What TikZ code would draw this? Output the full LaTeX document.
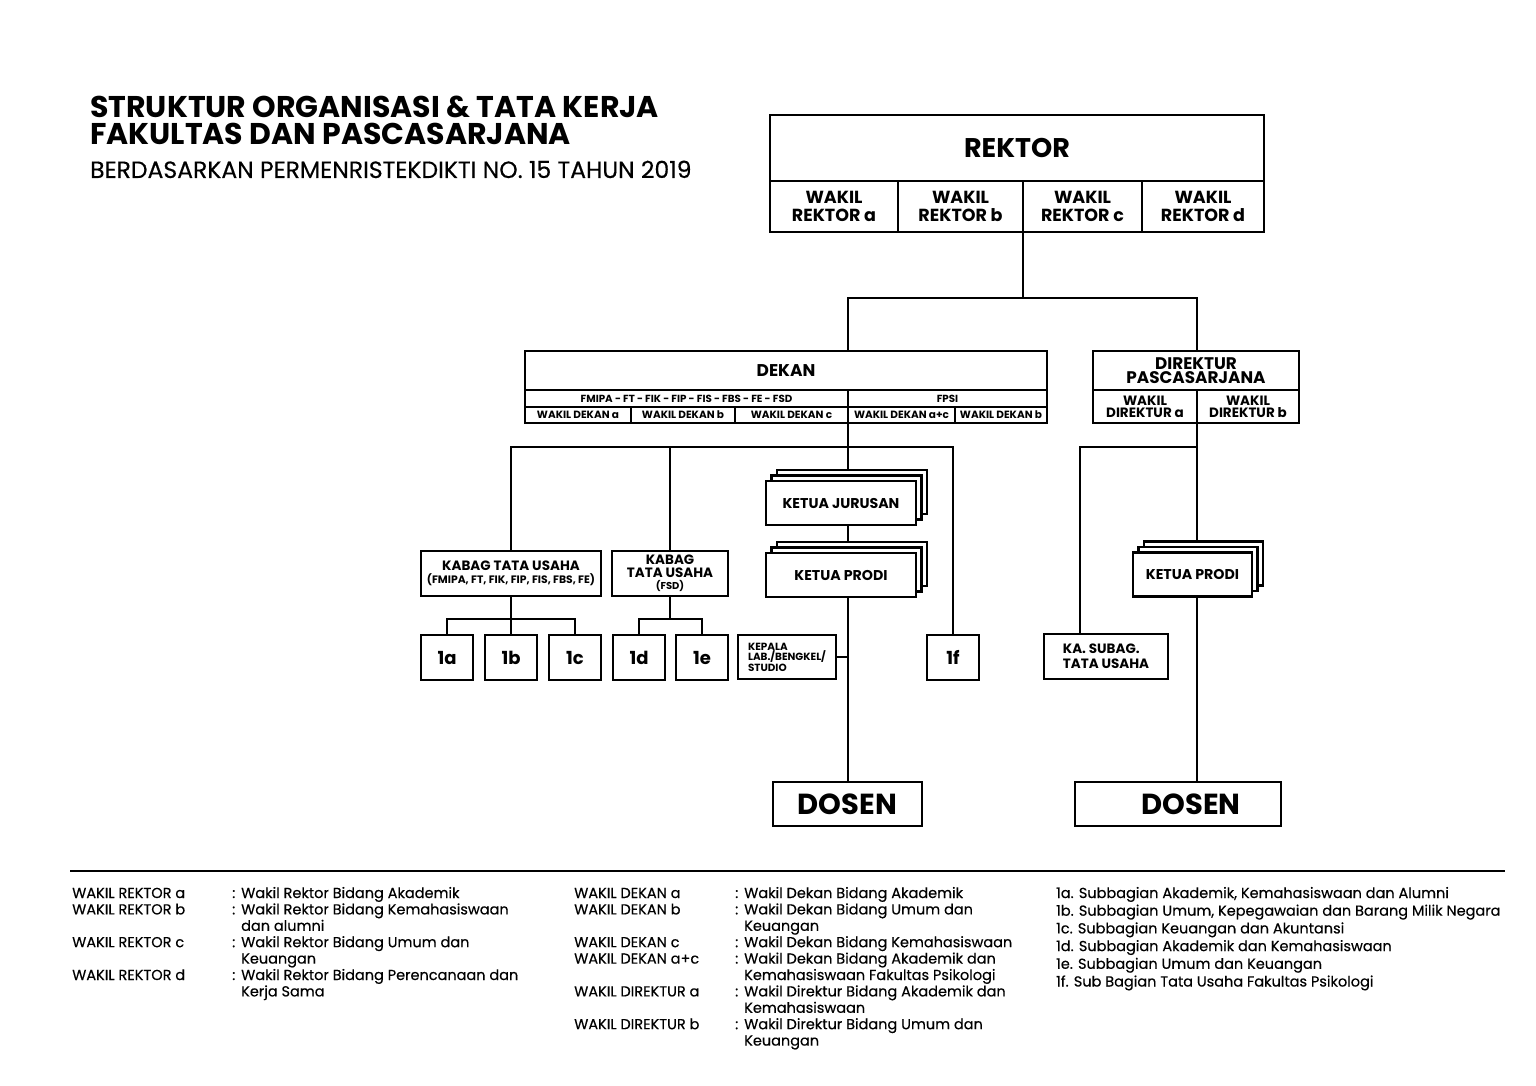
\documentclass[tikz,border=0pt]{standalone}
\usepackage{fontspec}
\setmainfont{Poppins}
\newfontfamily\bookfont{Poppins}[FakeBold=0.35]
\usetikzlibrary{positioning,shadows,backgrounds}
\newcommand\fsz[2]{\fontsize{#1}{#2}\selectfont}

\tikzset{
  orgbox/.style={draw,line width=2.4pt,fill=white,inner sep=0pt,outer sep=0pt,
    align=center,font=\bfseries},
  cell/.style={orgbox,line width=1.8pt},
  rcell/.style={orgbox,minimum height=51,font=\bfseries\fsz{17.5}{18}},
  dcell/.style={cell,minimum height=16,font=\bfseries\fsz{10.5}{11}},
  stackbox/.style={orgbox,double copy shadow={shadow xshift=5.5pt,shadow yshift=5.5pt},
    font=\bfseries\fsz{14.2}{15}},
  subbox/.style={orgbox,minimum width=52,minimum height=45,font=\bfseries\fsz{18}{20}},
  link/.style={line width=2.4pt},
  legend/.style={anchor=base west,inner sep=0pt,font=\bookfont\fsz{14.5}{16.4}}
}

\begin{document}
\begin{tikzpicture}[x=1pt,y=-1pt]
\useasboundingbox (0,0) rectangle (1536,1086);

% judul
\node[anchor=base west,inner sep=0pt,font=\bfseries\fsz{30}{30}] (title1) at (90,118) {STRUKTUR ORGANISASI \& TATA KERJA};
\node[anchor=base west,inner sep=0pt,font=\bfseries\fsz{30}{30}] (title2) at (90,145) {FAKULTAS DAN PASCASARJANA};
\node[anchor=base west,inner sep=0pt,font=\bookfont\fsz{23.5}{23.5}] (subtitle) at (90,178) {BERDASARKAN PERMENRISTEKDIKTI NO. 15 TAHUN 2019};

% rektor
\node[orgbox,minimum width=494,minimum height=66,font=\bfseries\fsz{27}{28}] (rektor) at (1017,148) {REKTOR};
\node[rcell,minimum width=128,anchor=north west] (wra) at (rektor.south west) {WAKIL\\REKTOR a};
\node[rcell,minimum width=125,right=0pt of wra] (wrb) {WAKIL\\REKTOR b};
\node[rcell,minimum width=119,right=0pt of wrb] (wrc) {WAKIL\\REKTOR c};
\node[rcell,minimum width=122,right=0pt of wrc] (wrd) {WAKIL\\REKTOR d};

% dekan
\node[cell,minimum width=522,minimum height=39,font=\bfseries\fsz{17}{18}] (dekan) at (786,370.5) {DEKAN};
\node[dcell,minimum width=323,minimum height=17,anchor=north west,font=\bfseries\fsz{10.3}{11}] (fak) at (dekan.south west) {FMIPA - FT - FIK - FIP - FIS - FBS - FE - FSD};
\node[dcell,minimum width=199,minimum height=17,right=0pt of fak,font=\bfseries\fsz{10.3}{11}] (fpsi) {FPSI};
\node[dcell,minimum width=106,anchor=north west] (wda) at (fak.south west) {WAKIL DEKAN a};
\node[dcell,minimum width=104,right=0pt of wda] (wdb) {WAKIL DEKAN b};
\node[dcell,minimum width=113,right=0pt of wdb] (wdc) {WAKIL DEKAN c};
\node[dcell,minimum width=107,right=0pt of wdc] (wdac) {WAKIL DEKAN a+c};
\node[dcell,minimum width=92,right=0pt of wdac] (wdb2) {WAKIL DEKAN b};
\draw[line width=2.4pt] (dekan.north west) rectangle (wdb2.south east);

% direktur
\node[orgbox,minimum width=206,minimum height=39,font=\bfseries\fsz{16.8}{14}] (dir) at (1196,370.5) {DIREKTUR\\PASCASARJANA};
\node[orgbox,minimum width=104,minimum height=33,anchor=north west,font=\bfseries\fsz{13.5}{12}] (wdira) at (dir.south west) {WAKIL\\DIREKTUR a};
\node[orgbox,minimum width=102,minimum height=33,right=0pt of wdira,font=\bfseries\fsz{13.5}{12}] (wdirb) {WAKIL\\DIREKTUR b};

% jurusan dan prodi
\node[stackbox,minimum width=150,minimum height=44] (jurusan) at (841,503) {KETUA JURUSAN};
\node[stackbox,minimum width=150,minimum height=44] (prodi1) at (841,575) {KETUA PRODI};
\node[stackbox,minimum width=119,minimum height=44] (prodi2) at (1192.5,574.5) {KETUA PRODI};

% kabag tata usaha
\node[orgbox,minimum width=180,minimum height=45,font=\bfseries\fsz{13.5}{13.5}] (kabag1) at (511,573.5)
  {KABAG TATA USAHA\\\fsz{10.8}{12}(FMIPA, FT, FIK, FIP, FIS, FBS, FE)};
\node[orgbox,minimum width=116,minimum height=45,font=\bfseries\fsz{13.5}{12.5}] (kabag2) at (670,573.5)
  {KABAG\\TATA USAHA\\\fsz{10}{11}(FSD)};

% subbagian
\node[subbox] (s1a) at (447,657.5) {1a};
\node[subbox,right=12pt of s1a] (s1b) {1b};
\node[subbox,right=12pt of s1b] (s1c) {1c};
\node[subbox,right=12pt of s1c] (s1d) {1d};
\node[subbox,right=11pt of s1d] (s1e) {1e};
\node[subbox] (s1f) at (953,657.5) {1f};
\node[orgbox,minimum width=98,minimum height=44,align=left,font=\bfseries\fsz{10.4}{10.5}] (lab) at (787,657) {KEPALA\\LAB./BENGKEL/\\STUDIO};
\node[orgbox,minimum width=124,minimum height=45,align=left,font=\bfseries\fsz{13.5}{15}] (subtu) at (1106,656.5) {KA. SUBAG.\\TATA USAHA};

% dosen
\node[orgbox,minimum width=149,minimum height=44,font=\bfseries\fsz{29}{30}] (dosen1) at (847.5,804) {DOSEN};
\node[orgbox,minimum width=206,minimum height=44,font=\bfseries\fsz{29}{30}] (dosen2) at (1178,804) {\hspace*{26pt}DOSEN};

% garis penghubung
\coordinate (rbus) at (1023,298);
\coordinate (spine) at (wdac.south west);
\coordinate (bus) at (849,447);
\coordinate (bus2) at (1197,447);
\coordinate (bus2w) at (1080,447);
\coordinate (tu1) at (511,619);
\coordinate (tu2) at (670,619);
\begin{scope}[on background layer]
  \draw[link] (wrc.south west) -- (rbus);
  \draw[link] (dekan.north -| fpsi.west) |- (rbus) -| (dir.north -| wdirb.west);
  \draw[link] (spine) -- (spine |- jurusan.north);
  \draw[link] (jurusan.south -| spine) -- (prodi1.north -| spine);
  \draw[link] (prodi1.south -| spine) -- (dosen1.north -| spine);
  \draw[link] (lab.east) -- (lab.east -| spine);
  \draw[link] (kabag1.north) |- (bus) -| (s1f.north);
  \draw[link] (kabag2.north) -- (kabag2.north |- bus);
  \draw[link] (kabag1.south) -- (tu1);
  \draw[link] (s1a.north) |- (tu1) -| (s1c.north);
  \draw[link] (s1b.north) -- (tu1);
  \draw[link] (kabag2.south) -- (tu2);
  \draw[link] (s1d.north) |- (tu2) -| (s1e.north);
  \draw[link] (wdirb.south west) -- (bus2);
  \draw[link] (bus2) -- (prodi2.north -| bus2);
  \draw[link] (subtu.north -| bus2w) |- (bus2);
  \draw[link] (prodi2.south -| bus2) -- (dosen2.north -| bus2);
\end{scope}

% keterangan
\draw[line width=1.5pt] (70,871) -- (1505,871);
\node[legend] (ket1) at (72,898) {\begin{tabular}[t]{@{}p{160pt}@{}p{9pt}@{}l@{}}
WAKIL REKTOR a & : & Wakil Rektor Bidang Akademik\\
WAKIL REKTOR b & : & Wakil Rektor Bidang Kemahasiswaan\\
 & & dan alumni\\
WAKIL REKTOR c & : & Wakil Rektor Bidang Umum dan\\
 & & Keuangan\\
WAKIL REKTOR d & : & Wakil Rektor Bidang Perencanaan dan\\
 & & Kerja Sama
\end{tabular}};
\node[legend] (ket2) at (574,898) {\begin{tabular}[t]{@{}p{161pt}@{}p{9pt}@{}l@{}}
WAKIL DEKAN a & : & Wakil Dekan Bidang Akademik\\
WAKIL DEKAN b & : & Wakil Dekan Bidang Umum dan\\
 & & Keuangan\\
WAKIL DEKAN c & : & Wakil Dekan Bidang Kemahasiswaan\\
WAKIL DEKAN a+c & : & Wakil Dekan Bidang Akademik dan\\
 & & Kemahasiswaan Fakultas Psikologi\\
WAKIL DIREKTUR a & : & Wakil Direktur Bidang Akademik dan\\
 & & Kemahasiswaan\\
WAKIL DIREKTUR b & : & Wakil Direktur Bidang Umum dan\\
 & & Keuangan
\end{tabular}};
\node[legend,font=\bookfont\fsz{14.5}{17.7}] (ket3) at (1056,898) {\begin{tabular}[t]{@{}l@{}}
1a. Subbagian Akademik, Kemahasiswaan dan Alumni\\
1b. Subbagian Umum, Kepegawaian dan Barang Milik Negara\\
1c. Subbagian Keuangan dan Akuntansi\\
1d. Subbagian Akademik dan Kemahasiswaan\\
1e. Subbagian Umum dan Keuangan\\
1f. Sub Bagian Tata Usaha Fakultas Psikologi
\end{tabular}};
\end{tikzpicture}
\end{document}
